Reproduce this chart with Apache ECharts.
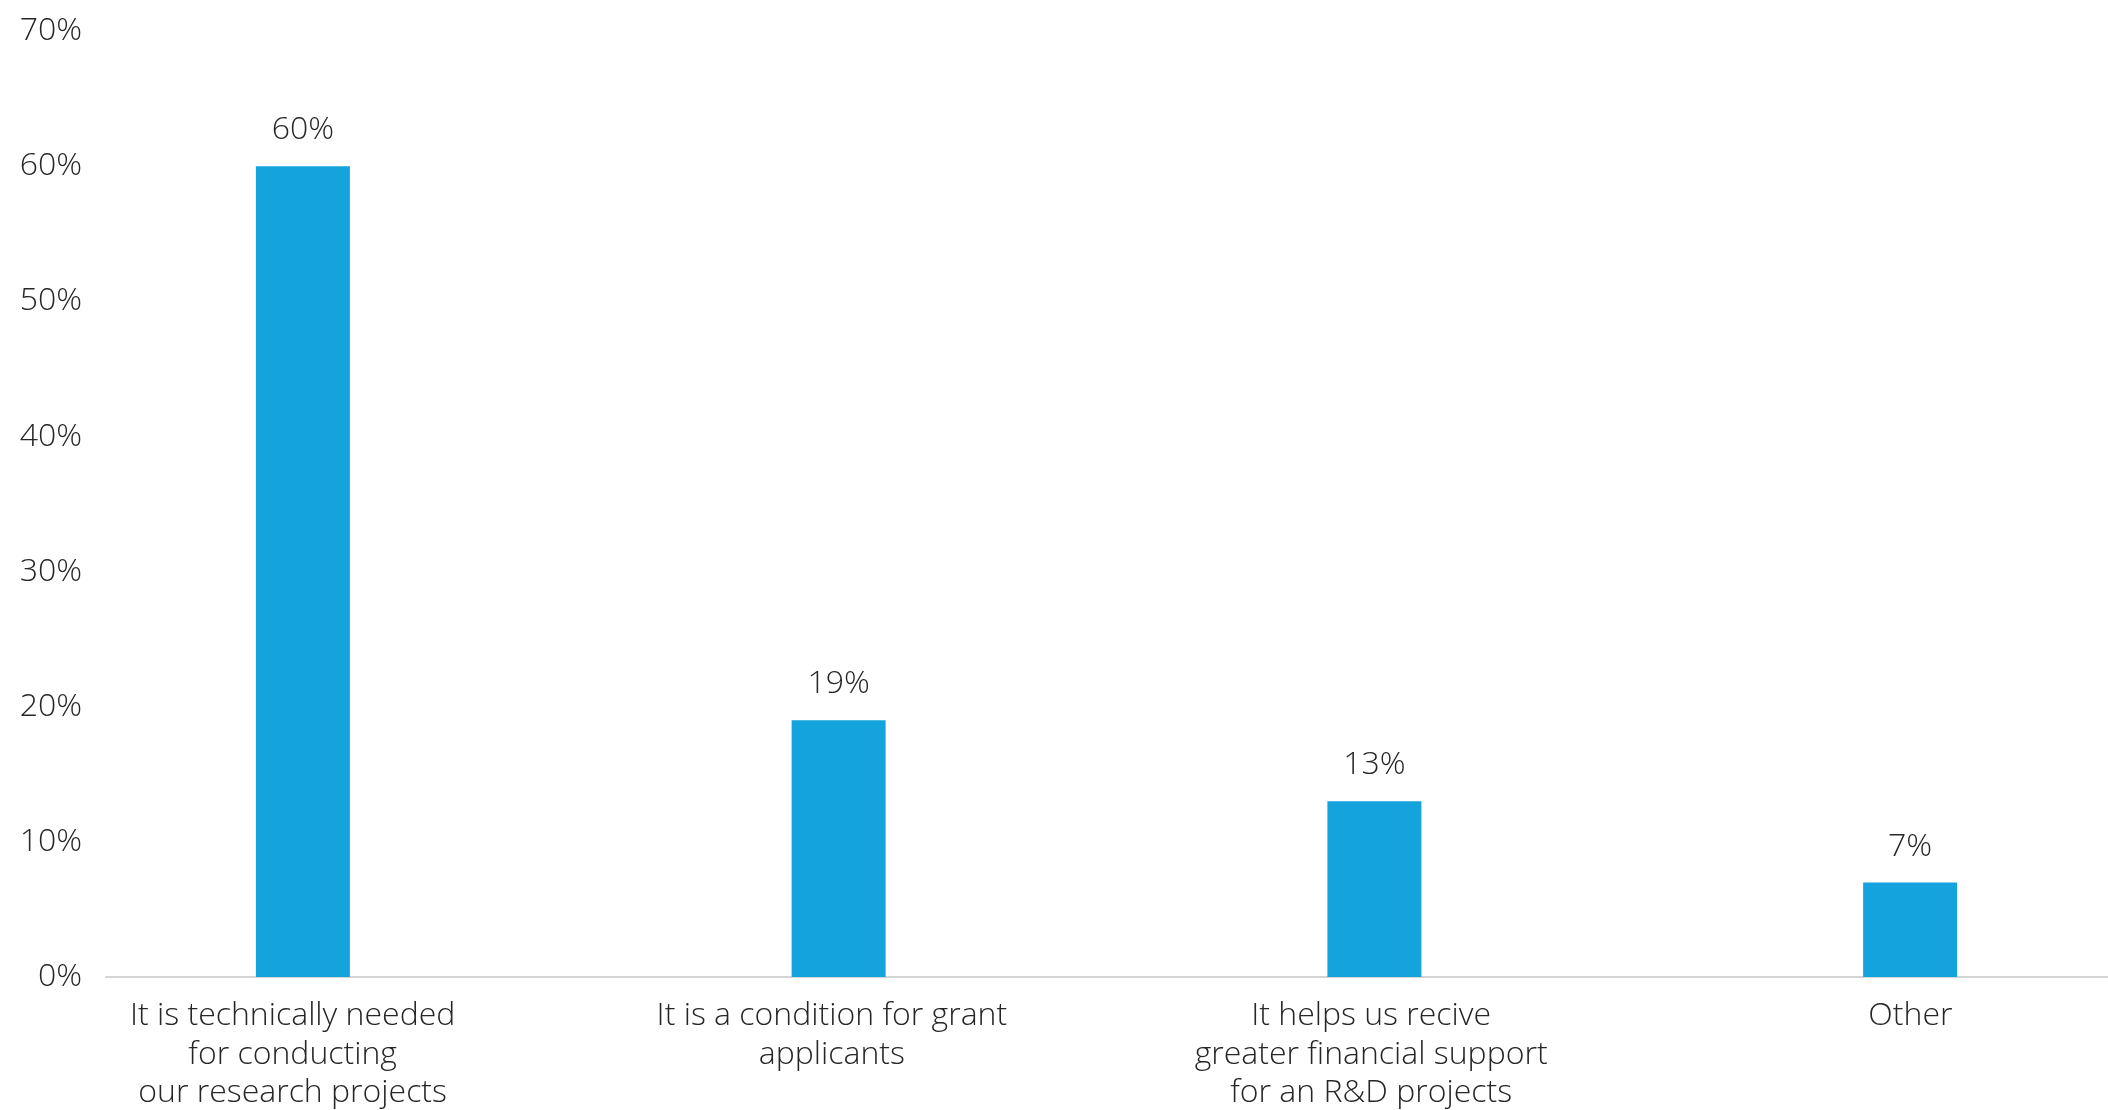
<!DOCTYPE html>
<html>
<head>
<meta charset="utf-8">
<title>Reasons</title>
<script src="https://cdn.jsdelivr.net/npm/echarts@6/dist/echarts.min.js"></script>
<style>
  html, body { margin: 0; padding: 0; background: #ffffff; overflow: hidden; }
  #chart { width: 2108px; height: 1110px; }
</style>
</head>
<body>
<div id="chart"></div>
<script>
// Answer categories (line breaks as shown under the axis)
const categories = [
  'It is technically needed\nfor conducting\nour research projects',
  'It is a condition for grant\napplicants',
  'It helps us recive\ngreater financial support\nfor an R&D projects',
  'Other'
];
// Share of respondents, percent
const shares = [60, 19, 13, 7];
// Value axis range and step, percent
const axisMin = 0;
const axisMax = 70;
const axisStep = 10;

const FONT = '"Open Sans", "Noto Sans", sans-serif';
const TEXT = '#262626';
const BAR = '#15A3DD';
const RULE = '#d4d4d4';

const chart = echarts.init(document.getElementById('chart'), null, { renderer: 'canvas' });

const gridBase = { top: 31, bottom: 133, containLabel: false, outerBoundsMode: 'none' };

chart.setOption({
  backgroundColor: '#ffffff',
  animation: false,
  textStyle: { fontFamily: FONT },
  grid: [
    // bars; the band row runs past the right edge
    Object.assign({ left: 35, width: 2143 }, gridBase),
    // visible value axis and baseline
    Object.assign({ left: 106, right: 0 }, gridBase),
    // category captions under the baseline
    Object.assign({ left: 23, width: 2157 }, gridBase)
  ],
  xAxis: [
    {
      type: 'category',
      gridIndex: 0,
      data: categories,
      axisLine: { show: false },
      axisTick: { show: false },
      axisLabel: { show: false }
    },
    {
      type: 'value',
      gridIndex: 1,
      min: 0,
      max: 1,
      axisLine: { show: true, lineStyle: { color: RULE, width: 2 } },
      axisTick: { show: false },
      axisLabel: { show: false },
      splitLine: { show: false }
    },
    {
      type: 'category',
      gridIndex: 2,
      data: categories,
      axisLine: { show: false },
      axisTick: { show: false },
      axisLabel: {
        interval: 0,
        margin: 20,
        color: TEXT,
        fontFamily: FONT,
        fontWeight: 300,
        fontSize: 32,
        lineHeight: 38.5,
        align: 'center'
      }
    }
  ],
  yAxis: [
    {
      type: 'value',
      gridIndex: 0,
      min: axisMin,
      max: axisMax,
      interval: axisStep,
      show: false
    },
    {
      type: 'value',
      gridIndex: 1,
      min: axisMin,
      max: axisMax,
      interval: axisStep,
      axisLine: { show: false },
      axisTick: { show: false },
      splitLine: { show: false },
      axisLabel: {
        margin: 24,
        color: TEXT,
        fontFamily: FONT,
        fontWeight: 300,
        fontSize: 32,
        formatter: '{value}%'
      }
    },
    {
      type: 'value',
      gridIndex: 2,
      min: axisMin,
      max: axisMax,
      interval: axisStep,
      show: false
    }
  ],
  series: [
    {
      type: 'bar',
      xAxisIndex: 0,
      yAxisIndex: 0,
      data: shares,
      barWidth: 94,
      itemStyle: { color: BAR },
      z: 3,
      label: {
        show: true,
        position: 'top',
        distance: 20,
        color: TEXT,
        fontFamily: FONT,
        fontWeight: 300,
        fontSize: 32,
        formatter: '{c}%'
      }
    }
  ]
});
</script>
</body>
</html>
